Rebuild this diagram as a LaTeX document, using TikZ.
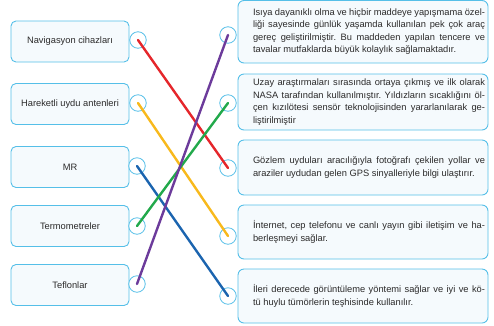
\documentclass[tikz,border=0pt]{standalone}
\usepackage{fontspec}
\setmainfont{Liberation Sans}
\usepackage{xcolor}
\usepackage{tikz}
\frenchspacing
\definecolor{framecyan}{HTML}{55BFE8}
\definecolor{softcyan}{HTML}{F5FAFD}
\definecolor{inkgray}{HTML}{2B2A2A}
\definecolor{linkred}{HTML}{E5262B}
\definecolor{linkyellow}{HTML}{F8B91C}
\definecolor{linkblue}{HTML}{1B64AF}
\definecolor{linkgreen}{HTML}{22A94B}
\definecolor{linkpurple}{HTML}{6C3B9B}
\tikzset{
  itembox/.style={rounded corners=5pt, draw=framecyan, fill=softcyan, line width=0.9pt, align=center, font=\fontsize{9.3}{12.5}\selectfont, text=inkgray, minimum width=118pt, minimum height=41pt},
  infobox/.style={rounded corners=6pt, draw=framecyan, fill=softcyan, line width=0.9pt, minimum width=250pt, inner sep=0pt},
  infotext/.style={text width=232pt, align=justify, inner sep=0pt, font=\fontsize{9.3}{12.5}\selectfont, text=inkgray},
  joint/.style={circle, draw=framecyan, fill=white, line width=0.8pt, minimum size=16.5pt, inner sep=0pt},
  matchline/.style={line width=2.4pt, line cap=round}
}
\begin{document}
\begin{tikzpicture}[x=1pt, y=-1pt]
  \useasboundingbox (0,0) rectangle (494,325);
  % left column: devices
  \node[itembox] (nav) at (70,41.5) {Navigasyon cihazları};
  \node[itembox] (ant) at (70,104) {Hareketli uydu antenleri};
  \node[itembox] (mr) at (70,167) {MR};
  \node[itembox] (therm) at (70,226) {Termometreler};
  \node[itembox] (teflon) at (70,285) {Teflonlar};
  % right column: descriptions
  \node[infobox, minimum height=62.5pt] (d1) at (363,31.75) {};
  \node[infobox, minimum height=56pt] (d2) at (363,102) {};
  \node[infobox, minimum height=55pt] (d3) at (363,167.5) {};
  \node[infobox, minimum height=54pt] (d4) at (363,232) {};
  \node[infobox, minimum height=54pt] (d5) at (363,296) {};
  \node[infotext] (t1) at ([xshift=6pt]d1.center) {Isıya dayanıklı olma ve hiçbir maddeye yapışmama özel-\linebreak liği sayesinde günlük yaşamda kullanılan pek çok araç\linebreak gereç geliştirilmiştir. Bu maddeden yapılan tencere ve\linebreak tavalar mutfaklarda büyük kolaylık sağlamaktadır.};
  \node[infotext] (t2) at ([xshift=6pt]d2.center) {Uzay araştırmaları sırasında ortaya çıkmış ve ilk olarak\linebreak NASA tarafından kullanılmıştır. Yıldızların sıcaklığını öl-\linebreak çen kızılötesi sensör teknolojisinden yararlanılarak ge-\linebreak liştirilmiştir};
  \node[infotext] (t3) at ([xshift=6pt]d3.center) {Gözlem uyduları aracılığıyla fotoğrafı çekilen yollar ve\linebreak araziler uydudan gelen GPS sinyalleriyle bilgi ulaştırır.};
  \node[infotext] (t4) at ([xshift=6pt]d4.center) {İnternet, cep telefonu ve canlı yayın gibi iletişim ve ha-\linebreak berleşmeyi sağlar.};
  \node[infotext] (t5) at ([xshift=6pt]d5.center) {İleri derecede görüntüleme yöntemi sağlar ve iyi ve kö-\linebreak tü huylu tümörlerin teşhisinde kullanılır.};
  % joints
  \node[joint] (lj1) at (138,40) {};
  \node[joint] (lj2) at (138,103) {};
  \node[joint] (lj3) at (137,166) {};
  \node[joint] (lj4) at (137,226) {};
  \node[joint] (lj5) at (137,284) {};
  \node[joint] (rj1) at (228,35) {};
  \node[joint] (rj2) at (228,103) {};
  \node[joint] (rj3) at (228,168) {};
  \node[joint] (rj4) at (228,236) {};
  \node[joint] (rj5) at (228,296) {};
  % matches
  \draw[matchline, linkred] (lj1.center) -- (rj3.center);
  \draw[matchline, linkyellow] (lj2.center) -- (rj4.center);
  \draw[matchline, linkblue] (lj3.center) -- (rj5.center);
  \draw[matchline, linkgreen] (lj4.center) -- (rj2.center);
  \draw[matchline, linkpurple] (lj5.center) -- (rj1.center);
\end{tikzpicture}
\end{document}
